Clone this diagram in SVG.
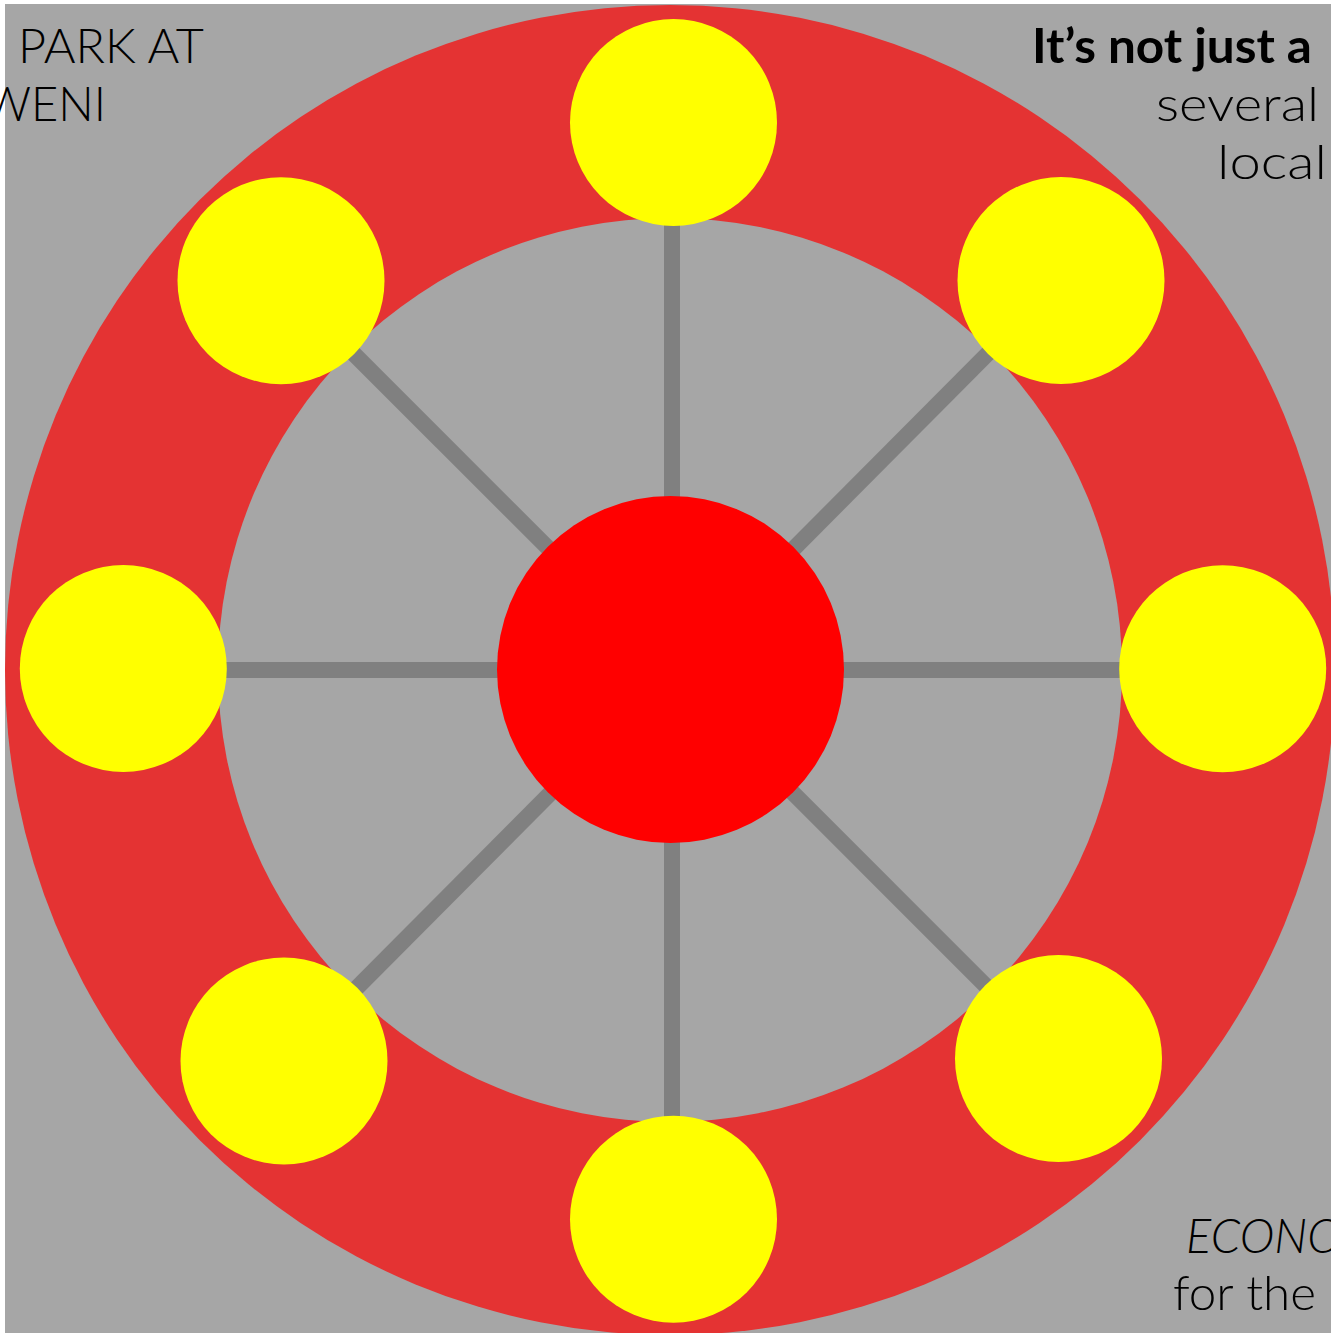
<svg xmlns="http://www.w3.org/2000/svg" width="1331" height="1333" viewBox="0 0 1331 1333">
<defs>
<style>
.spoke{stroke:#808080;stroke-width:16;fill:none}
.sat{fill:#FFFF00}
.txt{font-family:Lato,"Liberation Sans",sans-serif;font-weight:300;font-size:47px;fill:#000000}
.bold{font-weight:700}
.ital{font-style:italic}
</style>
</defs>
<rect x="0" y="0" width="1331" height="1333" fill="#FFFFFF"/>
<rect x="5" y="4" width="1326" height="1329" fill="#A6A6A6"/>
<g id="ring">
<circle cx="670" cy="670" r="665" fill="#E43333"/>
<circle cx="670" cy="670" r="452" fill="#A6A6A6"/>
</g>
<g id="connectors">
<line class="spoke" x1="672" y1="122" x2="672" y2="1219"/>
<line class="spoke" x1="123" y1="670" x2="1223" y2="670"/>
<line class="spoke" x1="281" y1="281" x2="1058" y2="1058"/>
<line class="spoke" x1="1061" y1="280" x2="284" y2="1061"/>
</g>
<g id="hub"><circle cx="670.5" cy="669.5" r="173.5" fill="#FF0000"/></g>
<g id="node-top"><circle class="sat" cx="673.5" cy="122.5" r="103.5"/></g>
<g id="node-top-right"><circle class="sat" cx="1061" cy="280.5" r="103.5"/></g>
<g id="node-right"><circle class="sat" cx="1222.7" cy="668.7" r="103.5"/></g>
<g id="node-bottom-right"><circle class="sat" cx="1058.5" cy="1058.5" r="103.5"/></g>
<g id="node-bottom"><circle class="sat" cx="673.5" cy="1219.2" r="103.5"/></g>
<g id="node-bottom-left"><circle class="sat" cx="284" cy="1061" r="103.5"/></g>
<g id="node-left"><circle class="sat" cx="123.3" cy="668.5" r="103.5"/></g>
<g id="node-top-left"><circle class="sat" cx="281" cy="280.7" r="103.5"/></g>
<g id="texts">
<text class="txt" x="18" y="63" textLength="186" lengthAdjust="spacingAndGlyphs">PARK AT</text>
<text class="txt" x="106" y="121" text-anchor="end">WENI</text>
<text class="txt bold" x="1032" y="63" textLength="280" lengthAdjust="spacingAndGlyphs">It’s not just a</text>
<text class="txt" x="1156" y="121" textLength="163" lengthAdjust="spacingAndGlyphs">several</text>
<text class="txt" x="1217" y="179" textLength="110" lengthAdjust="spacingAndGlyphs">local</text>
<text class="txt ital" x="1186" y="1253">ECONO</text>
<text class="txt" x="1173" y="1310" textLength="143" lengthAdjust="spacingAndGlyphs">for the</text>
</g>
</svg>
